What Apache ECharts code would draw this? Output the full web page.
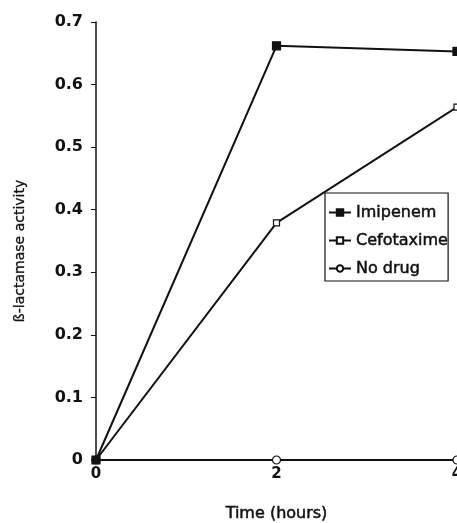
<!DOCTYPE html>
<html>
<head>
<meta charset="utf-8">
<script src="https://cdn.jsdelivr.net/npm/echarts@6/dist/echarts.min.js"></script>
<style>
  html, body { margin: 0; padding: 0; background: #fff; }
  #chart { width: 457px; height: 523px; }
</style>
</head>
<body>
<div id="chart"></div>
<script>
// values
const hours = [0, 2, 4]
const imipenem = [0, 0.662, 0.653]
const cefotaxime = [0, 0.379, 0.564]
const noDrug = [0, 0, 0]

const FONT = 'DejaVu Sans'
const INK = '#111'

const pairs = (ys) => hours.map((h, i) => [h, ys[i]])

const chart = echarts.init(document.getElementById('chart'), null, { renderer: 'canvas' })

const lineSeries = (name, ys, symbol, size, fill) => ({
    name: name,
    type: 'line',
    data: pairs(ys),
    symbol: symbol,
    symbolSize: size,
    showSymbol: true,
    clip: false,
    animation: false,
    lineStyle: { width: 2, color: INK },
    itemStyle: { color: fill, borderColor: INK, borderWidth: 1.2 }
})

// scanned type looks heavier than plain regular weight
const heavy = { textBorderColor: INK, textBorderWidth: 0.5 }

chart.setOption({
    backgroundColor: '#fff',
    animation: false,
    grid: { left: 96, right: 0, top: 22, bottom: 63, outerBoundsMode: 'none' },
    legend: {
        orient: 'vertical',
        left: 325,
        top: 193,
        padding: [10, 0, 3, 3],
        itemGap: 9,
        itemWidth: 22,
        itemHeight: 8,
        borderColor: INK,
        borderWidth: 1.2,
        backgroundColor: '#fff',
        data: ['Imipenem', 'Cefotaxime', 'No drug'],
        textStyle: { fontFamily: FONT, fontSize: 16, color: INK, lineHeight: 19, ...heavy }
    },
    xAxis: {
        type: 'value',
        min: 0,
        max: 4,
        interval: 2,
        name: 'Time (hours)',
        nameLocation: 'middle',
        nameGap: 46,
        nameTextStyle: { fontFamily: FONT, fontSize: 16, color: INK, ...heavy },
        axisLine: { show: true, lineStyle: { color: INK, width: 1.5 } },
        axisTick: { show: true, length: 4, lineStyle: { color: INK } },
        axisLabel: { fontFamily: FONT, fontSize: 15, fontWeight: 'bold', color: INK, margin: 7 },
        splitLine: { show: false }
    },
    yAxis: {
        type: 'value',
        min: 0,
        max: 0.7,
        interval: 0.1,
        name: 'ß-lactamase activity',
        nameLocation: 'middle',
        nameGap: 69,
        nameTextStyle: { fontFamily: FONT, fontSize: 14, color: INK, padding: [0, 20, 0, 0], textBorderColor: INK, textBorderWidth: 0.3 },
        axisLine: { show: true, lineStyle: { color: INK, width: 1.5 } },
        axisTick: { show: true, length: 5, lineStyle: { color: INK } },
        axisLabel: { fontFamily: FONT, fontSize: 16, fontWeight: 'bold', color: INK, margin: 13 },
        splitLine: { show: false }
    },
    series: [
        lineSeries('No drug', noDrug, 'circle', 8, '#fff'),
        lineSeries('Cefotaxime', cefotaxime, 'rect', 6, '#fff'),
        lineSeries('Imipenem', imipenem, 'rect', 8, INK)
    ]
})
</script>
</body>
</html>
